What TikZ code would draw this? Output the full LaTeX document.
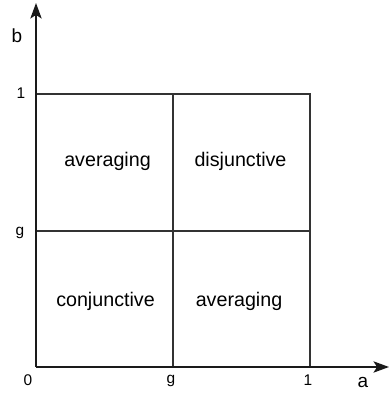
\documentclass[tikz,border=0pt]{standalone}
\usepackage{fontspec}
\setmainfont{Liberation Sans}
\usetikzlibrary{arrows.meta}
\definecolor{ink}{HTML}{1A1A1A}
\definecolor{grid}{HTML}{333333}

\begin{document}
\begin{tikzpicture}[x=0.025cm,y=0.025cm,
 axis/.style={-{Stealth[length=11pt,width=8pt,inset=2.5pt]},draw=ink,line width=1.4pt},
 cell/.style={draw=grid,line width=1pt},
 region/.style={font=\fontsize{14}{16}\selectfont,anchor=base},
 tick/.style={font=\fontsize{11}{13}\selectfont,anchor=base},
 axlabel/.style={font=\fontsize{13.5}{16}\selectfont,anchor=base}]
\useasboundingbox (-36,-26) rectangle (354,367);
% corners of the unit square and its split at g
\coordinate (o) at (0,0);
\coordinate (ax) at (353,0);
\coordinate (by) at (0,364);
\coordinate (g0) at (137,0);
\coordinate (g1) at (137,273);
\coordinate (0g) at (0,136);
\coordinate (1g) at (274,136);
\coordinate (10) at (274,0);
\coordinate (11) at (274,273);
\coordinate (01) at (0,273);
\draw[cell] (01) -- (11) -- (10);
\draw[cell] (g0) -- (g1);
\draw[cell] (0g) -- (1g);
\draw[axis] (o) -- (ax);
\draw[axis] (o) -- (by);
% region names
\node[region] (avgtop) at (71.5,200) {averaging};
\node[region] (disj) at (204.5,200) {disjunctive};
\node[region] (conj) at (69.5,60) {conjunctive};
\node[region] (avgbot) at (203,60) {averaging};
% ticks and axis names
\node[axlabel] (blab) at (-19,324) {b};
\node[axlabel] (alab) at (327,-20) {a};
\node[tick] (b1) at (-15,268) {1};
\node[tick] (bg) at (-16,131) {g};
\node[tick] (a0) at (-8,-18) {0};
\node[tick] (ag) at (135,-16) {g};
\node[tick] (a1) at (272,-18) {1};
\end{tikzpicture}
\end{document}
